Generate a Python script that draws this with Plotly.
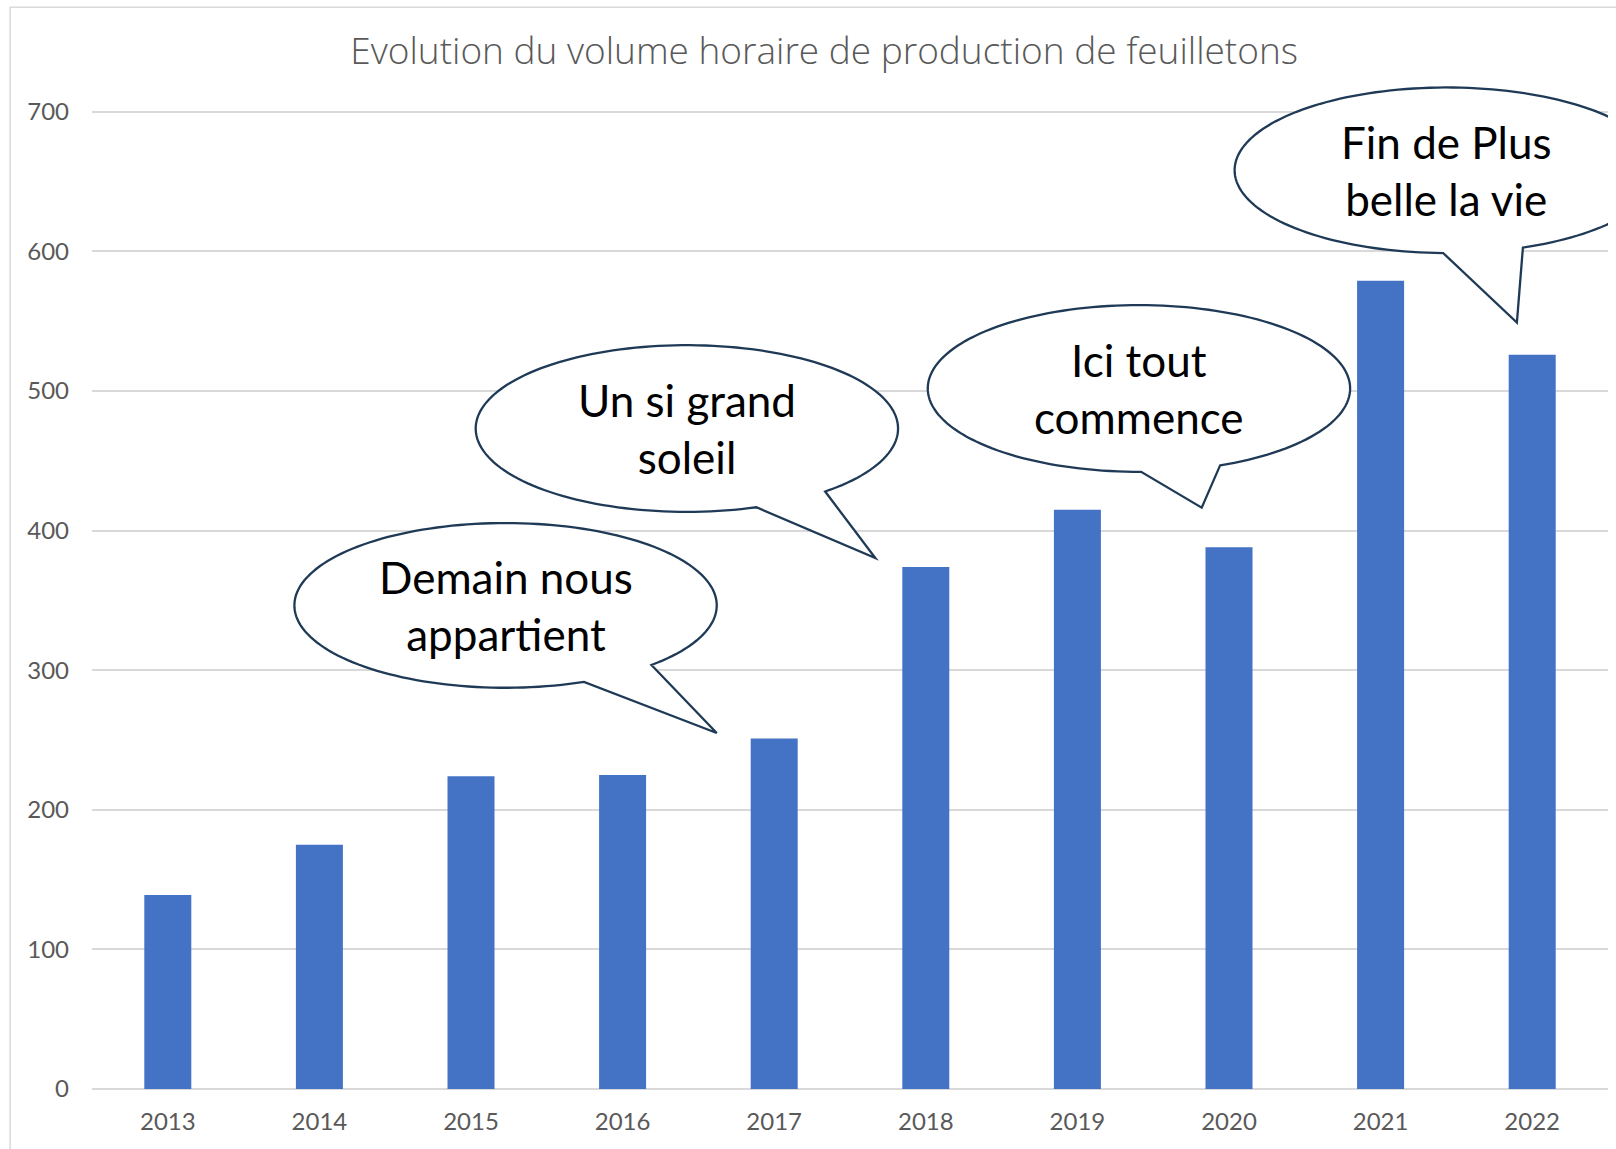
import numpy as np
import plotly.graph_objects as go

# ---- Data ----
annees = [2013, 2014, 2015, 2016, 2017, 2018, 2019, 2020, 2021, 2022]
volumes = [139, 175, 224, 225, 251, 374, 415, 388, 579, 526]
titre = "Evolution du volume horaire de production de feuilletons"
textes_bulles = ["Demain nous<br>appartient", "Un si grand<br>soleil",
                 "Ici tout<br>commence", "Fin de Plus<br>belle la vie"]

# ---- Callout geometry (data coordinates: category index, value) ----
geo_bulles = [
    dict(cx=2.228, cy=346.4, rx=1.393, ry=59.0, a1=-46.3, a2=-68.2, tip=(3.621, 255.0)),
    dict(cx=3.424, cy=473.1, rx=1.393, ry=59.7, a1=-49.1, a2=-70.8, tip=(4.667, 380.3)),
    dict(cx=6.406, cy=501.8, rx=1.393, ry=59.7, a1=-67.4, a2=-89.4, tip=(6.820, 416.4)),
    dict(cx=8.437, cy=658.1, rx=1.400, ry=59.3, a1=-69.0, a2=-91.0, tip=(8.899, 549.0)),
]

x_idx = list(range(len(annees)))
GRAY_TXT = "#595959"
GRID = "#D9D9D9"
OUTLINE = "#1F3A56"

fig = go.Figure(go.Bar(x=x_idx, y=volumes, marker=dict(color="#4472C4", line=dict(width=0)),
                       hoverinfo="y"))


def bubble_path(g):
    t = np.radians(np.linspace(g["a1"], g["a2"] + 360, 160))
    xs = g["cx"] + g["rx"] * np.cos(t)
    ys = g["cy"] + g["ry"] * np.sin(t)
    pts = [f"{x:.4f},{y:.3f}" for x, y in zip(xs, ys)]
    path = "M " + " L ".join(pts)
    path += f" L {g['tip'][0]:.4f},{g['tip'][1]:.3f} Z"
    return path


shapes = [
    dict(type="rect", xref="paper", yref="paper", x0=-0.054, x1=1.2, y0=-0.2, y1=1.0195,
         line=dict(color=GRID, width=1.5), fillcolor="rgba(0,0,0,0)", layer="below"),
]
annotations = []
for g, txt in zip(geo_bulles, textes_bulles):
    shapes.append(dict(type="path", xref="x", yref="y", path=bubble_path(g),
                       fillcolor="white", line=dict(color=OUTLINE, width=2.3), layer="above"))
    annotations.append(dict(x=g["cx"], y=g["cy"], xref="x", yref="y", text=txt,
                            showarrow=False, xanchor="center", yanchor="middle",
                            font=dict(family="Lato", size=44, color="black")))

fig.update_layout(
    width=1616, height=1149,
    margin=dict(l=92, r=8, t=28, b=60),
    paper_bgcolor="white", plot_bgcolor="white",
    title=dict(text=titre, xref="container", x=0.51, xanchor="center",
               yref="container", y=1 - 51.5 / 1149, yanchor="middle",
               font=dict(family="Open Sans", size=37, color=GRAY_TXT, weight=300)),
    bargap=0.69,
    showlegend=False,
    shapes=shapes,
    annotations=annotations,
)
fig.update_xaxes(tickvals=x_idx, ticktext=[str(a) for a in annees], range=[-0.5, 9.5],
                 showgrid=False, zeroline=False, showline=False, ticks="",
                 tickfont=dict(family="Lato", size=24, color=GRAY_TXT), ticklabelstandoff=16)
fig.update_yaxes(range=[0, 760], tick0=0, dtick=100, showgrid=True, gridcolor=GRID, gridwidth=1.5,
                 zeroline=True, zerolinecolor=GRID, zerolinewidth=2, showline=False, ticks="",
                 tickfont=dict(family="Lato", size=24, color=GRAY_TXT), ticklabelstandoff=22)

fig.write_html("out.html", config={"displayModeBar": False},
               post_script="document.body.style.margin='0';document.body.style.overflow='hidden';")
